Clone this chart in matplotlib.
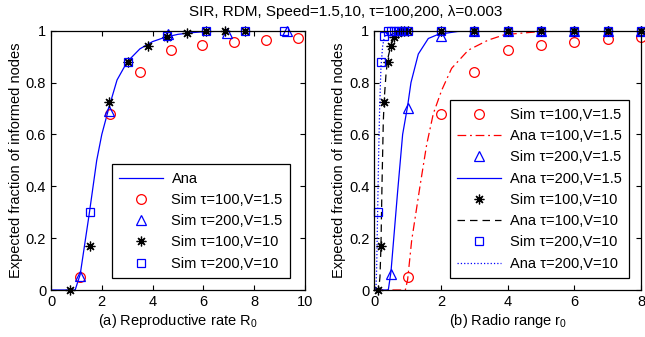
import matplotlib
matplotlib.use('Agg')
import matplotlib.pyplot as plt
import numpy as np

plt.rcParams['font.family'] = ['Liberation Sans', 'DejaVu Sans']
plt.rcParams['mathtext.fontset'] = 'custom'
plt.rcParams['mathtext.rm'] = 'Liberation Sans'
plt.rcParams['mathtext.it'] = 'Liberation Sans'
plt.rcParams['font.size'] = 10.5

# ---- (a) 数据: 横轴 R0
ana_R0 = [0, 0.95, 1.15, 1.5, 1.8, 2.0, 2.3, 2.6, 3.0, 3.5, 4.0, 4.5, 5.0, 5.5, 6.0, 7.0, 10.0]
ana_R0_y = [0, 0, 0.06, 0.29, 0.50, 0.60, 0.71, 0.81, 0.88, 0.93, 0.958, 0.975, 0.986, 0.992, 0.996, 0.999, 1.0]

a_c_x = [1.15, 2.33, 3.51, 4.73, 5.94, 7.21, 8.45, 9.74]
a_c_y = [0.05, 0.677, 0.84, 0.925, 0.945, 0.958, 0.966, 0.972]
a_t_x = [1.15, 2.27, 4.6, 6.92, 9.28]
a_t_y = [0.055, 0.69, 0.988, 0.992, 1.0]
a_s_x = [0.76, 1.53, 2.29, 3.05, 3.8, 4.58, 5.34, 6.1, 6.87, 7.63]
a_s_y = [0.0, 0.17, 0.725, 0.88, 0.94, 0.975, 0.99, 0.997, 1.0, 1.0]
a_q_x = [1.53, 3.05, 4.58, 6.1, 7.63, 9.16]
a_q_y = [0.30, 0.88, 0.978, 1.0, 1.0, 1.0]

# ---- (b) 数据: 横轴 r0
b_c_x = [1, 2, 3, 4, 5, 6, 7, 8]
b_c_y = [0.05, 0.677, 0.842, 0.925, 0.945, 0.958, 0.968, 0.974]
b_red_x = [0, 0.93, 1.0, 1.12, 1.37, 1.57, 1.77, 2.02, 2.32, 2.82, 3.42, 3.92, 5.0, 8.0]
b_red_y = [0, 0, 0.04, 0.19, 0.40, 0.56, 0.68, 0.77, 0.855, 0.925, 0.964, 0.985, 0.997, 1.0]

b_t_x = [0.5, 1, 2, 3, 4, 5, 6, 7, 8]
b_t_y = [0.06, 0.70, 0.98, 1, 1, 1, 1, 1, 1]
b_blue_x = [0, 0.42, 0.5, 0.7, 0.85, 1.0, 1.1, 1.32, 1.62, 1.92, 2.5, 3.0, 8.0]
b_blue_y = [0, 0, 0.07, 0.38, 0.60, 0.71, 0.80, 0.91, 0.97, 0.986, 0.997, 1.0, 1.0]

b_s_x = [0.1, 0.2, 0.3, 0.4, 0.5, 0.6, 0.7, 0.8, 0.9, 1.0, 2, 3, 4, 5, 6, 7, 8]
b_s_y = [0.0, 0.17, 0.725, 0.88, 0.94, 0.975, 0.99, 0.997, 1, 1, 1, 1, 1, 1, 1, 1, 1]
b_blk_x = [0, 0.13, 0.17, 0.2, 0.23, 0.27, 0.3, 0.35, 0.4, 0.5, 0.6, 0.7, 0.8, 1.0, 8.0]
b_blk_y = [0, 0, 0.05, 0.17, 0.40, 0.65, 0.74, 0.83, 0.89, 0.945, 0.975, 0.99, 0.996, 1.0, 1.0]

b_q_x = [0.1, 0.2, 0.3, 0.4, 0.5, 0.6, 0.7, 0.8, 0.9, 1.0, 2, 3, 4, 5, 6, 7, 8]
b_q_y = [0.30, 0.88, 0.98, 1, 1, 1, 1, 1, 1, 1, 1, 1, 1, 1, 1, 1, 1]
b_dot_x = [0, 0.05, 0.07, 0.1, 0.13, 0.16, 0.2, 0.25, 0.3, 0.4, 0.5, 8.0]
b_dot_y = [0, 0, 0.08, 0.30, 0.52, 0.70, 0.86, 0.94, 0.975, 0.995, 1.0, 1.0]

title = 'SIR, RDM, Speed=1.5,10, τ=100,200, λ=0.003'
y_ticks = [0, 0.2, 0.4, 0.6, 0.8, 1]
y_labels = ['0', '0.2', '0.4', '0.6', '0.8', '1']

ast = (8, 2, 0)   # 星号标记
mk = dict(linestyle='none', fillstyle='none', clip_on=False, markeredgewidth=0.9)

fig = plt.figure(figsize=(6.45, 3.37), dpi=100)
ax1 = fig.add_axes([51 / 645, 1 - 290 / 337, 254 / 645, 259.3 / 337])
ax2 = fig.add_axes([374.3 / 645, 1 - 290 / 337, 266.7 / 645, 259.3 / 337])

# 图(a)
ax1.plot(ana_R0, ana_R0_y, color='blue', lw=0.9, label='Ana')
ax1.plot(a_c_x, a_c_y, marker='o', color='red', ms=7, label='Sim τ=100,V=1.5', **mk)
ax1.plot(a_t_x, a_t_y, marker='^', color='blue', ms=7, label='Sim τ=200,V=1.5', **mk)
ax1.plot(a_s_x, a_s_y, marker=ast, color='black', ms=7, label='Sim τ=100,V=10', **mk)
ax1.plot(a_q_x, a_q_y, marker='s', color='blue', ms=6, label='Sim τ=200,V=10', **mk)
ax1.set_xlim(0, 10)
ax1.set_xticks([0, 2, 4, 6, 8, 10])
ax1.set_xlabel('(a) Reproductive rate R$_0$', labelpad=2)

# 图(b)
ax2.plot(b_c_x, b_c_y, marker='o', color='red', ms=7, label='Sim τ=100,V=1.5', **mk)
ax2.plot(b_red_x, b_red_y, color='red', lw=0.9, dashes=(7, 3, 1.5, 3), label='Ana τ=100,V=1.5')
ax2.plot(b_t_x, b_t_y, marker='^', color='blue', ms=7, label='Sim τ=200,V=1.5', **mk)
ax2.plot(b_blue_x, b_blue_y, color='blue', lw=0.9, label='Ana τ=200,V=1.5')
ax2.plot(b_s_x, b_s_y, marker=ast, color='black', ms=7, label='Sim τ=100,V=10', **mk)
ax2.plot(b_blk_x, b_blk_y, color='black', lw=0.9, dashes=(6, 4), label='Ana τ=100,V=10')
ax2.plot(b_q_x, b_q_y, marker='s', color='blue', ms=6, label='Sim τ=200,V=10', **mk)
ax2.plot(b_dot_x, b_dot_y, color='blue', lw=0.9, linestyle=':', label='Ana τ=200,V=10')
ax2.set_xlim(0, 8)
ax2.set_xticks([0, 2, 4, 6, 8])
ax2.set_xlabel('(b) Radio range r$_0$', labelpad=2)

for ax in (ax1, ax2):
    ax.set_ylim(0, 1)
    ax.set_yticks(y_ticks)
    ax.set_yticklabels(y_labels)
    ax.set_ylabel('Expected fraction of informed nodes', labelpad=2)
    ax.tick_params(direction='in', top=True, right=True, length=3.5, width=0.8, labelsize=10.5)
    for s in ax.spines.values():
        s.set_linewidth(0.9)

leg_kw = dict(loc='lower right', fancybox=False, edgecolor='black', framealpha=1,
              handlelength=3.0, labelspacing=0.5, borderpad=0.5, handletextpad=0.6,
              borderaxespad=0, fontsize=10.5)
l1 = ax1.legend(bbox_to_anchor=(0.941, 0.046), **leg_kw)
l2 = ax2.legend(bbox_to_anchor=(0.955, 0.046), **leg_kw)
for l in (l1, l2):
    l.get_frame().set_linewidth(0.9)

fig.text(346 / 645, 1 - 12 / 337, title, ha='center', va='center', fontsize=11)

fig.savefig('out.png', dpi=100)
